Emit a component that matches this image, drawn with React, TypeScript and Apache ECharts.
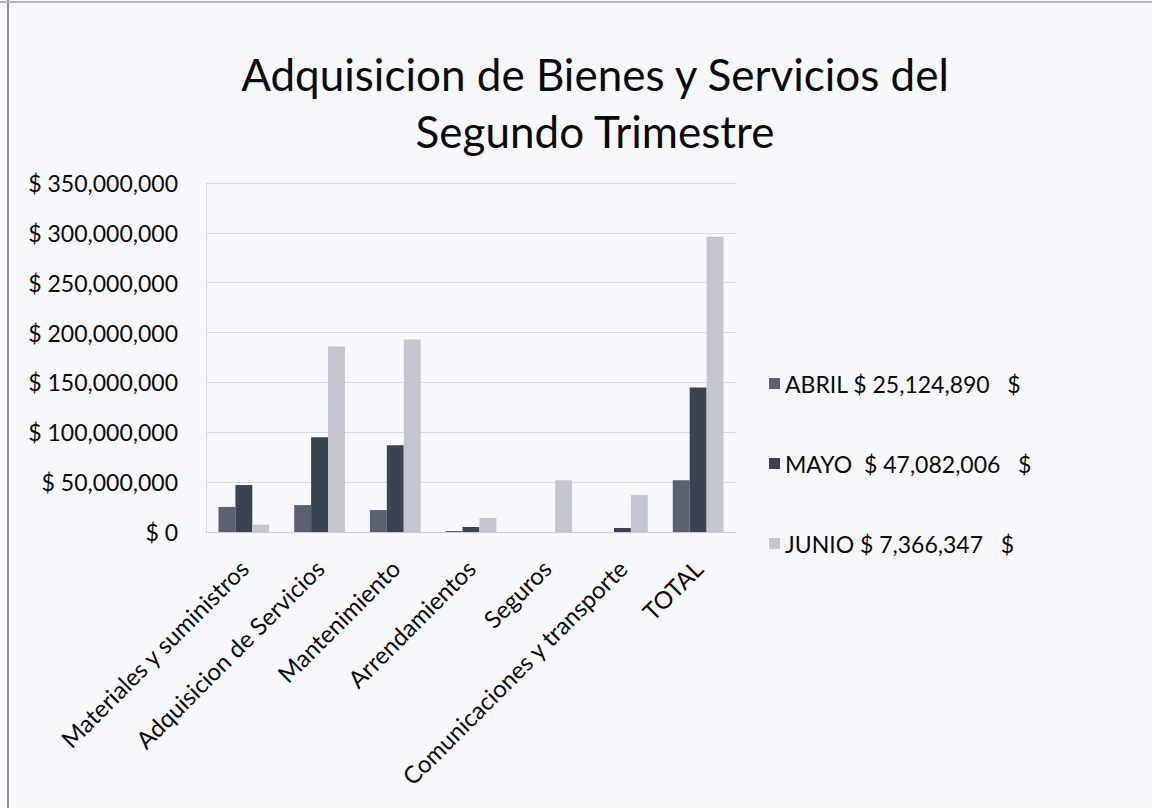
import React, { useEffect, useRef } from "react";
import * as echarts from "echarts";

const categories = [
  "Materiales y suministros",
  "Adquisicion de Servicios",
  "Mantenimiento",
  "Arrendamientos",
  "Seguros",
  "Comunicaciones y transporte",
  "TOTAL",
];
const seriesNames = ["ABRIL $ 25,124,890   $", "MAYO  $ 47,082,006   $", "JUNIO $ 7,366,347   $"];
const abril = [25124890, 27000000, 22000000, 1000000, 0, 0, 52000000];
const mayo = [47082006, 95000000, 87000000, 5000000, 0, 4000000, 145000000];
const junio = [7366347, 186000000, 193000000, 14000000, 52000000, 37000000, 296000000];
const colors = ["#5c6172", "#3b4252", "#c3c6cf"];
const yMax = 350000000;
const yInterval = 50000000;

const fmt = (v: number) => "$ " + v.toLocaleString("en-US");

export default function App() {
  const ref = useRef<HTMLDivElement>(null);
  useEffect(() => {
    const chart = echarts.init(ref.current!, null, { renderer: "svg" });
    const font = "Lato, 'Open Sans', sans-serif";
    chart.setOption({
      animation: false,
      backgroundColor: "#f6f8fc",
      title: {
        text: "Adquisicion de Bienes y Servicios del\nSegundo Trimestre",
        left: 590,
        textAlign: "center",
        top: 40,
        textStyle: { fontFamily: font, fontSize: 44, fontWeight: "normal", color: "#0a0a0a", lineHeight: 57 },
      },
      legend: {
        orient: "vertical",
        left: 764,
        top: 367,
        itemGap: 57,
        itemWidth: 11,
        itemHeight: 11,
        icon: "rect",
        textStyle: { fontFamily: font, fontSize: 23, color: "#0a0a0a" },
        data: seriesNames,
      },
      grid: { left: 206, right: 416, top: 183, bottom: 276, containLabel: false },
      xAxis: {
        type: "category",
        data: categories,
        axisTick: { show: false },
        axisLine: { lineStyle: { color: "#c8ccd4" } },
        axisLabel: {
          interval: 0,
          rotate: 45,
          margin: 32,
          fontFamily: font,
          fontSize: 24,
          color: "#0a0a0a",
        },
      },
      yAxis: {
        type: "value",
        min: 0,
        max: yMax,
        interval: yInterval,
        axisLine: { show: true, lineStyle: { color: "#d6d9df" } },
        splitLine: { lineStyle: { color: "#d6d9df" } },
        axisLabel: {
          formatter: (v: number) => fmt(v),
          fontFamily: font,
          fontSize: 23,
          color: "#0a0a0a",
          margin: 28,
        },
      },
      series: [abril, mayo, junio].map((d, i) => ({
        type: "bar",
        name: seriesNames[i],
        data: d,
        itemStyle: { color: colors[i] },
        barGap: "0%",
        barCategoryGap: "33%",
      })),
      graphic: [
        { type: "line", shape: { x1: 8, y1: 0, x2: 8, y2: 808 }, style: { stroke: "#8a8f99", lineWidth: 2 } },
        { type: "line", shape: { x1: 0, y1: 2, x2: 1152, y2: 2 }, style: { stroke: "#b0b4bc", lineWidth: 2 } },
      ],
    });
    return () => chart.dispose();
  }, []);
  return <div ref={ref} style={{ position: "fixed", left: 0, top: 0, width: 1152, height: 808 }} />;
}
